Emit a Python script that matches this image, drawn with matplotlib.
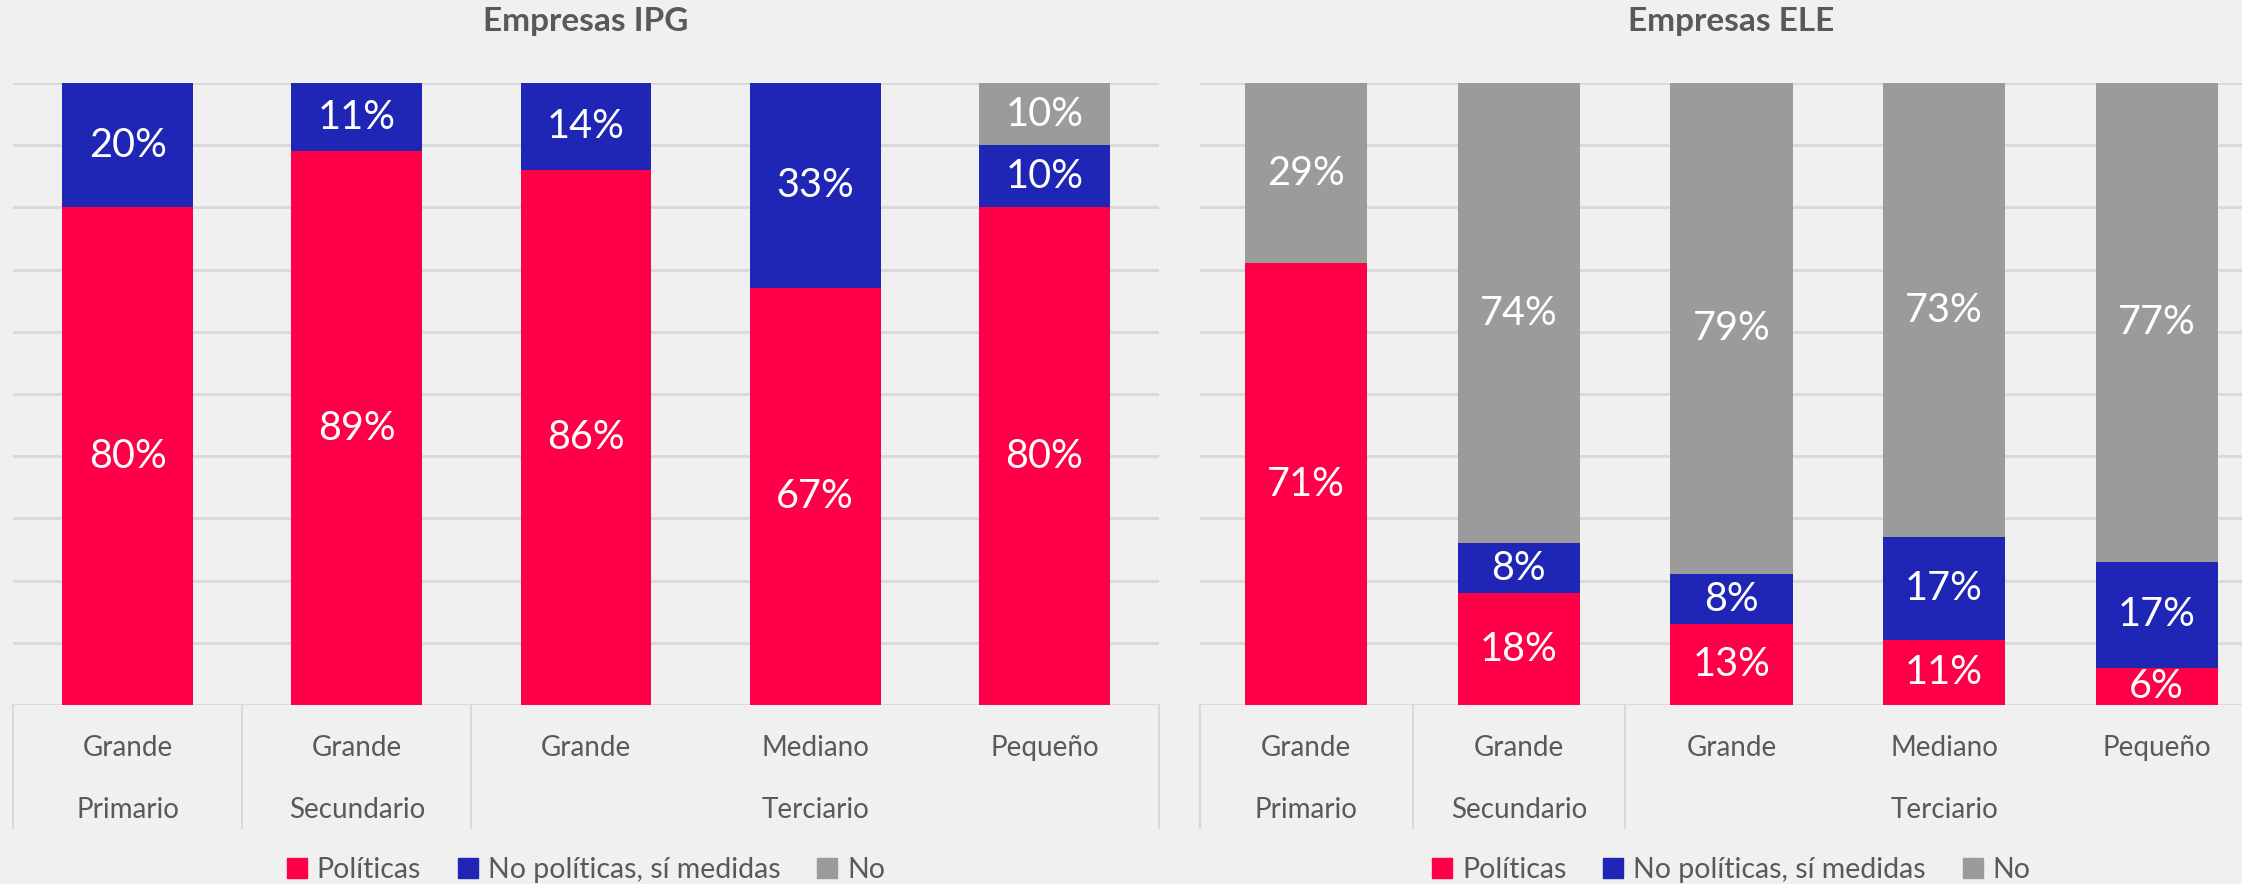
import matplotlib
matplotlib.use("Agg")
import matplotlib.pyplot as plt
from matplotlib.patches import Rectangle
import numpy as np

plt.rcParams['font.family'] = ['Lato', 'DejaVu Sans']

# ---- data ----
sizes = ["Grande", "Grande", "Grande", "Mediano", "Pequeño"]
sectors = ["Primario", "Secundario", "Terciario"]
sector_pos = [0, 1, 3]          # category index under which the sector name sits
sector_bounds = [-0.5, 0.5, 1.5, 4.5]
series_names = ["Políticas", "No políticas, sí medidas", "No"]

ipg_politicas = [80, 89, 86, 67, 80]
ipg_medidas = [20, 11, 14, 33, 10]
ipg_no = [0, 0, 0, 0, 10]

ele_politicas = [71, 18, 13, 10.5, 6]
ele_medidas = [0, 8, 8, 16.5, 17]
ele_no = [29, 74, 79, 73, 77]

colors = ["#FF0048", "#1F25B5", "#9B9B9B"]
bg = "#F0F0F0"
grid_c = "#D9D9D9"
text_c = "#595959"

W, H = 2242, 884
fig = plt.figure(figsize=(W / 100, H / 100), dpi=100, facecolor=bg)

def px_axes(x0, x1, ytop, ybot):
    return [x0 / W, 1 - ybot / H, (x1 - x0) / W, (ybot - ytop) / H]

def draw(ax, title, series, bar_w):
    ax.set_facecolor(bg)
    x = np.arange(len(sizes))
    bottom = np.zeros(len(sizes))
    for vals, col in zip(series, colors):
        vals = np.array(vals, dtype=float)
        ax.bar(x, vals, bar_w, bottom=bottom, color=col, zorder=3, linewidth=0)
        for xi, b, v in zip(x, bottom, vals):
            if v > 0:
                ax.text(xi, b + v / 2, f"{int(v + 0.5)}%", ha="center", va="center",
                        color="white", fontsize=28.5, zorder=4)
        bottom += vals
    ax.set_xlim(-0.5, len(sizes) - 0.5)
    ax.set_ylim(0, 100)
    for gy in range(0, 101, 10):
        ax.axhline(gy, color=grid_c, lw=2, zorder=1)
    ax.set_xticks([])
    ax.set_yticks([])
    for s in ax.spines.values():
        s.set_visible(False)
    trans = ax.get_xaxis_transform()
    ybot = -(828 - 705) / 622
    for b in sector_bounds:
        ax.plot([b, b], [0, ybot], color=grid_c, lw=1.5, transform=trans, clip_on=False)
    for xi, lab in zip(x, sizes):
        ax.text(xi, -(748 - 705) / 622, lab, transform=trans, ha="center", va="center",
                fontsize=20, color=text_c)
    for xp, lab in zip(sector_pos, sectors):
        ax.text(xp, -(810 - 705) / 622, lab, transform=trans, ha="center", va="center",
                fontsize=20, color=text_c)
    ax.set_title(title, fontsize=24, fontweight="bold", color=text_c, y=1.085, va="center")
    handles = [Rectangle((0, 0), 1, 1, color=c) for c in colors]
    leg = ax.legend(handles, series_names, loc="center", bbox_to_anchor=(0.5, -(870 - 705) / 622),
                    ncol=3, frameon=False, fontsize=20.5, handlelength=0.7, handleheight=0.7,
                    handletextpad=0.35, columnspacing=1.3, borderaxespad=0)
    for t in leg.get_texts():
        t.set_color(text_c)

ax1 = fig.add_axes(px_axes(13, 1159, 83, 705))
draw(ax1, "Empresas IPG", [ipg_politicas, ipg_medidas, ipg_no], 0.57)

ax2 = fig.add_axes(px_axes(1200, 2263, 83, 705))
draw(ax2, "Empresas ELE", [ele_politicas, ele_medidas, ele_no], 0.574)

fig.savefig("out.png", dpi=100, facecolor=bg)
